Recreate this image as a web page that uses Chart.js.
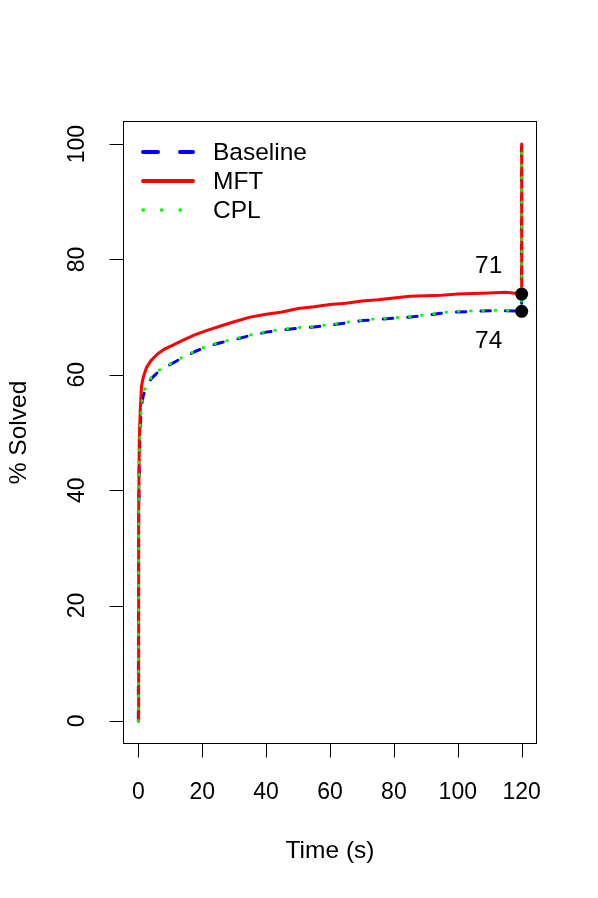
<!DOCTYPE html>
<html>
<head>
<meta charset="utf-8">
<script src="https://cdn.jsdelivr.net/npm/chart.js@4/dist/chart.umd.min.js"></script>
<style>
html,body{margin:0;padding:0;background:#fff;}
canvas{display:block;}
</style>
</head>
<body>
<canvas id="c" width="598" height="898"></canvas>
<script>
// ---- data ----
const times = [0, 0.1, 0.3, 0.6, 1, 1.5, 2.5, 4, 6, 8, 11, 14, 18, 22, 26, 30, 35, 40, 45, 50, 55, 60, 65, 70, 75, 80, 85, 90, 95, 100, 105, 110, 115, 120, 120];
const baselineSolved = [0, 33, 45, 51, 54.5, 56.3, 58, 59.3, 60.4, 61.2, 62.1, 63, 64.1, 65, 65.6, 66.1, 66.8, 67.4, 67.8, 68.1, 68.3, 68.6, 69, 69.4, 69.6, 69.8, 70, 70.3, 70.7, 70.9, 71, 71.1, 71.1, 71, 100];
const mftSolved = [0, 36, 48.8, 54, 58, 59.5, 61.2, 62.5, 63.6, 64.4, 65.2, 66, 67, 67.8, 68.5, 69.2, 70, 70.5, 70.9, 71.5, 71.8, 72.2, 72.4, 72.8, 73, 73.3, 73.6, 73.7, 73.8, 74, 74.1, 74.2, 74.3, 74, 100];
const cplSolved = [0, 33, 45.2, 51.2, 54.7, 56.5, 58.2, 59.5, 60.6, 61.3, 62.2, 63.1, 64.2, 65.1, 65.7, 66.2, 66.9, 67.5, 67.9, 68.2, 68.4, 68.7, 69.1, 69.5, 69.7, 69.9, 70.1, 70.4, 70.8, 71, 71.1, 71.2, 71.2, 71, 100];
const seriesNames = ['Baseline', 'MFT', 'CPL'];
const xTicks = [0, 20, 40, 60, 80, 100, 120];
const yTicks = [0, 20, 40, 60, 80, 100];
const endTime = [120, 120];
const endValues = [74, 71];
const endLabels = ['71', '74'];
const xTitle = 'Time (s)';
const yTitle = '% Solved';

const FONT = '23px "Liberation Sans", Arial, Helvetica, sans-serif';
const FONT_BIG = '24.5px "Liberation Sans", Arial, Helvetica, sans-serif';
const toPts = (arr) => times.map((t, i) => ({x: t, y: arr[i]}));

const rAxes = {
  id: 'rAxes',
  beforeDraw(chart) {
    const c = chart.ctx;
    c.save();
    c.fillStyle = '#fff';
    c.fillRect(0, 0, chart.width, chart.height);
    c.restore();
  },
  afterDraw(chart) {
    const c = chart.ctx, ca = chart.chartArea;
    const xs = chart.scales.x, ys = chart.scales.y;
    c.save();
    c.strokeStyle = '#000';
    c.lineWidth = 1;
    // box
    c.strokeRect(Math.round(ca.left) + 0.5, Math.round(ca.top) + 0.5, Math.round(ca.width) - 1, Math.round(ca.height) - 1);
    c.fillStyle = '#000';
    c.font = FONT;
    // x axis
    const yb = Math.round(ca.bottom) - 0.5;
    c.beginPath();
    c.moveTo(xs.getPixelForValue(xTicks[0]), yb);
    c.lineTo(xs.getPixelForValue(xTicks[xTicks.length - 1]), yb);
    xTicks.forEach(t => {
      const px = Math.round(xs.getPixelForValue(t)) + 0.5;
      c.moveTo(px, yb); c.lineTo(px, yb + 14);
    });
    c.stroke();
    c.textAlign = 'center';
    c.textBaseline = 'middle';
    xTicks.forEach(t => c.fillText(String(t), xs.getPixelForValue(t), ca.bottom + 49));
    c.font = FONT_BIG;
    c.fillText(xTitle, (ca.left + ca.right) / 2, ca.bottom + 107);
    c.font = FONT;
    // y axis
    const xl = Math.round(ca.left) + 0.5;
    c.beginPath();
    c.moveTo(xl, ys.getPixelForValue(yTicks[0]));
    c.lineTo(xl, ys.getPixelForValue(yTicks[yTicks.length - 1]));
    yTicks.forEach(v => {
      const py = Math.round(ys.getPixelForValue(v)) + 0.5;
      c.moveTo(xl, py); c.lineTo(xl - 14, py);
    });
    c.stroke();
    yTicks.forEach(v => {
      c.save();
      c.translate(ca.left - 45, ys.getPixelForValue(v));
      c.rotate(-Math.PI / 2);
      c.fillText(String(v), 0, 0);
      c.restore();
    });
    c.save();
    c.font = FONT_BIG;
    c.translate(19, (ca.top + ca.bottom) / 2);
    c.rotate(-Math.PI / 2);
    c.fillText(yTitle, 0, 0);
    c.restore();
    // end labels
    c.font = FONT_BIG;
    c.fillText(endLabels[0], xs.getPixelForValue(endTime[0]) - 33, ys.getPixelForValue(endValues[0]) - 28);
    c.fillText(endLabels[1], xs.getPixelForValue(endTime[1]) - 33, ys.getPixelForValue(endValues[1]) + 30);
    // legend
    const ds = chart.data.datasets;
    const lx0 = ca.left + 20, lx1 = ca.left + 70, tx = ca.left + 90;
    const rows = [ca.top + 31, ca.top + 60, ca.top + 89];
    const legendDash = [[15, 22], [], [0.5, 18]];
    const legendWidth = [4, 4, 3.5];
    for (let i = 0; i < 3; i++) {
      c.save();
      c.strokeStyle = ds[i].borderColor;
      c.lineWidth = legendWidth[i];
      c.lineCap = 'round';
      c.setLineDash(legendDash[i]);
      c.beginPath();
      c.moveTo(lx0, rows[i]); c.lineTo(lx1, rows[i]);
      c.stroke();
      c.restore();
      c.textAlign = 'left';
      c.fillText(ds[i].label, tx, rows[i] + 1);
    }
    c.restore();
  }
};

new Chart(document.getElementById('c'), {
  type: 'line',
  data: {
    datasets: [
      {label: seriesNames[0], data: toPts(baselineSolved), borderColor: '#0000ff', borderWidth: 3,
       borderDash: [9.5, 15], borderCapStyle: 'round', borderJoinStyle: 'round', pointRadius: 0, tension: 0, order: 3},
      {label: seriesNames[1], data: toPts(mftSolved), borderColor: '#ff0000', borderWidth: 3,
       borderCapStyle: 'round', borderJoinStyle: 'round', pointRadius: 0, tension: 0, order: 2},
      {label: seriesNames[2], data: toPts(cplSolved), borderColor: '#00ff00', borderWidth: 3,
       borderDash: [0.5, 11.8], borderCapStyle: 'round', borderJoinStyle: 'round', pointRadius: 0, tension: 0, order: 1},
      {label: 'end', type: 'scatter', data: endTime.map((t, i) => ({x: t, y: endValues[i]})),
       pointRadius: 6.5, pointBackgroundColor: '#000', pointBorderColor: '#000', borderWidth: 0, showLine: false, order: 0}
    ]
  },
  options: {
    responsive: false,
    animation: false,
    devicePixelRatio: 1,
    layout: {padding: {left: 123, right: 61, top: 121, bottom: 154}},
    scales: {
      x: {type: 'linear', min: -4.8, max: 124.8, display: false},
      y: {type: 'linear', min: -4, max: 104, display: false}
    },
    plugins: {legend: {display: false}, tooltip: {enabled: false}},
    events: []
  },
  plugins: [rAxes]
});
</script>
</body>
</html>
